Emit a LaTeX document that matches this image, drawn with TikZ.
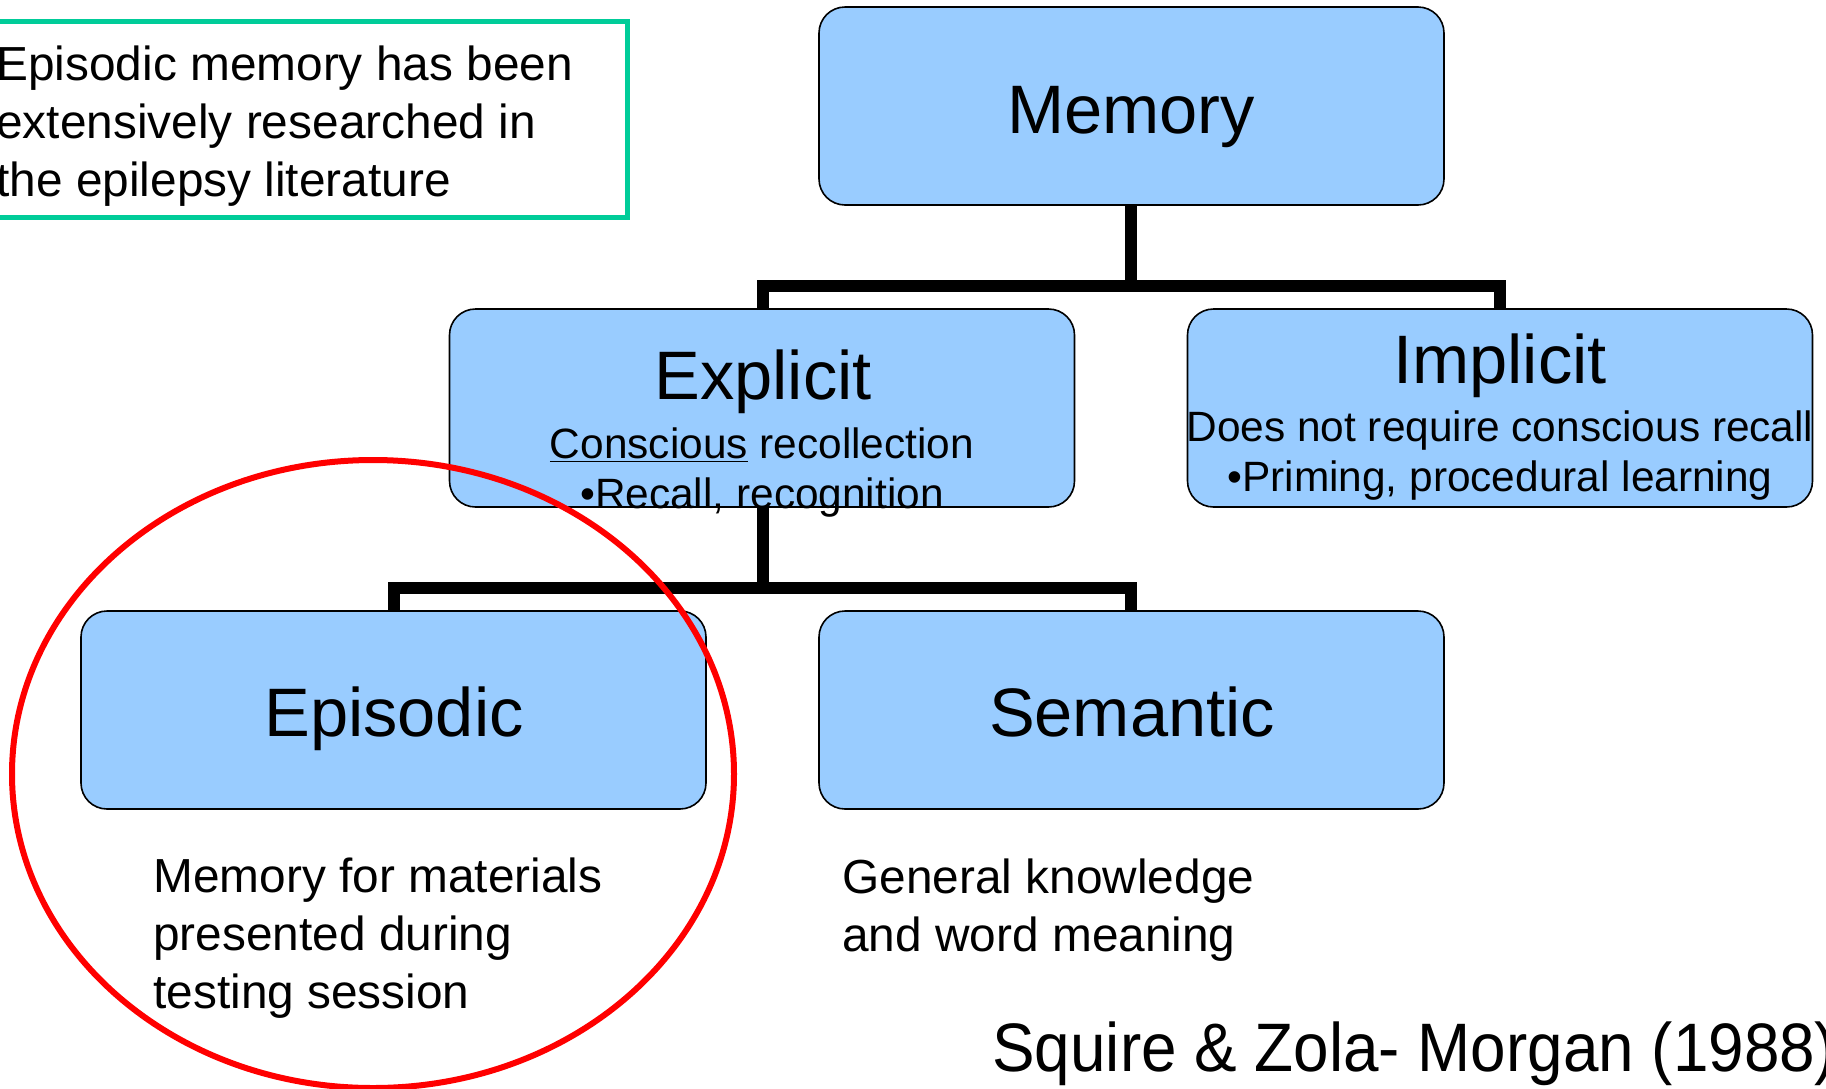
\documentclass[tikz,border=0pt]{standalone}
\usepackage{fontspec}
\setmainfont{Liberation Sans}
\usetikzlibrary{positioning,calc}
\definecolor{boxblue}{RGB}{153,204,255}
\definecolor{notegreen}{RGB}{0,204,153}

\begin{document}
\begin{tikzpicture}[x=0.5pt,y=-0.5pt]
\tikzset{mem box/.style={draw, line width=0.8pt, fill=boxblue,
    rounded corners=13pt, minimum width=312.5pt, minimum height=99pt,
    inner sep=0pt},
  big text/.style={font=\fontsize{34.3}{41}\selectfont, anchor=base, inner sep=0pt},
  small text/.style={font=\fontsize{21.2}{25}\selectfont, anchor=base, inner sep=0pt},
  plain text/.style={font=\fontsize{23.9}{29}\selectfont, align=left,
    anchor=base west, inner sep=0pt},
  link/.style={line width=6pt}
}
\clip (0,0) rectangle (1826,1088);
\fill[white] (0,0) rectangle (1826,1088);

\coordinate (fork1) at (1131,286);
\coordinate (fork2) at (763,588);

\draw[link] (1131,205) -- (fork1);
\draw[link] (763,309) |- (fork1) -| (1500,309);
\draw[link] (763,507) -- (fork2);
\draw[link] (394,611) |- (fork2) -| (1131,611);

\node[mem box] (memory) at (1131.5,106) {};
\node[mem box] (explicit) at (762,408) {};
\node[mem box] (implicit) at (1500,408) {};
\node[mem box] (episodic) at (393.5,710) {};
\node[mem box] (semantic) at (1131.5,710) {};

\node[big text] (memoryT) at (1131,133) {Memory};
\node[big text] (explicitT) at (763,399) {Explicit};
\node[small text] (explicitA) at (762,458) {\underline{Conscious} recollection};
\node[small text] (explicitB) at (762,508) {•Recall, recognition};
\node[big text] (implicitT) at (1500,383) {Implicit};
\node[small text] (implicitA) at (1500,441) {Does not require conscious recall};
\node[small text] (implicitB) at (1500,491) {•Priming, procedural learning};
\node[big text] (episodicT) at (394,736) {Episodic};
\node[big text] (semanticT) at (1132,736) {Semantic};

% multi-line nodes: base is the last line
\node[plain text] (episodicD) at (153,1008) {Memory for materials\\presented during\\testing session};
\node[plain text] (semanticD) at (842,951) {General knowledge\\and word meaning};

\draw[notegreen, line width=2.5pt] (-20,21) rectangle (627,217);
\node[plain text] (note) at (-4,196) {Episodic memory has been\\extensively researched in\\the epilepsy literature};

\node[big text, anchor=base west] (source) at (992,1071)
  {\scalebox{0.93}[1]{Squire \& Zola- Morgan (1988)}};

\draw[red, line width=3pt] (373,774) ellipse [x radius=180.5pt, y radius=157pt];
\end{tikzpicture}
\end{document}
